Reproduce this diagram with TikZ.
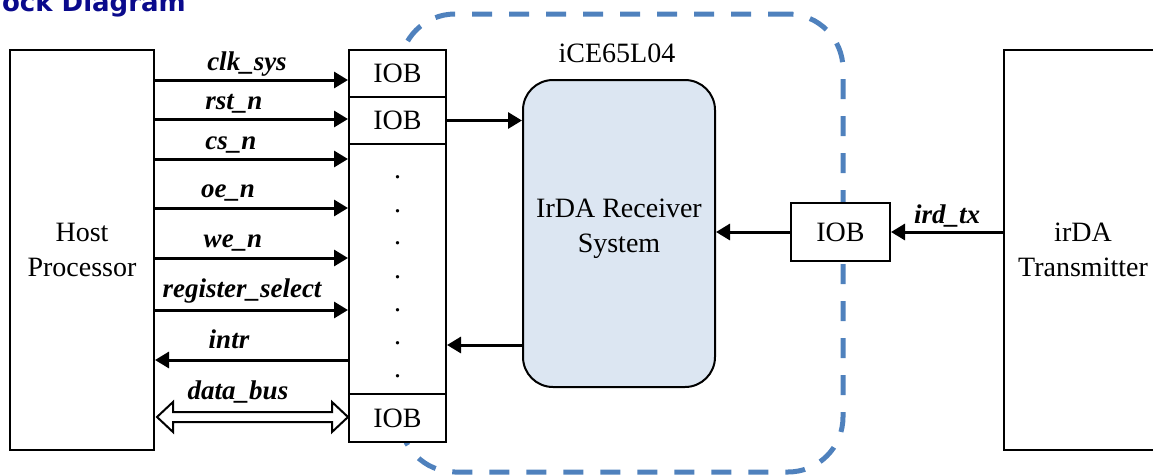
\documentclass[tikz,border=0pt]{standalone}
\usepackage{fontspec}
\setmainfont{Liberation Serif}
\newfontfamily\titlefont{DejaVu Sans}
\usetikzlibrary{arrows.meta,calc}
\definecolor{chipblue}{RGB}{79,129,189}
\definecolor{rxfill}{RGB}{220,230,242}
\definecolor{titleblue}{RGB}{10,10,140}
\begin{document}
\begin{tikzpicture}[x=1pt,y=-1pt,
  box/.style={draw, line width=2pt, inner sep=0pt, fill=white},
  txt/.style={font=\fontsize{28}{35}\selectfont, align=center, inner sep=0pt},
  lbl/.style={font=\fontsize{27}{32}\selectfont\bfseries\itshape, inner sep=0pt, anchor=base},
  arr/.style={line width=3pt, -{Triangle[length=14pt,width=16pt]}},
  dot/.style={font=\fontsize{28}{35}\selectfont, inner sep=0pt, anchor=center},
]
\useasboundingbox (0,0) rectangle (1153,475);
\clip (0,0) rectangle (1153,475);

\node[anchor=base east, inner sep=0pt, font=\titlefont\fontsize{26}{30}\selectfont\bfseries, text=titleblue] (title) at (186,11) {Block Diagram};

% chip boundary
\node[draw=chipblue, line width=5pt, dash pattern=on 20pt off 17pt, rounded corners=55pt,
      minimum width=443pt, minimum height=458pt, inner sep=0pt] (chip) at (621.5,243) {};
\node[txt, anchor=base] (chiplbl) at (617,62) {iCE65L04};

% host
\node[box, txt, minimum width=144pt, minimum height=400pt] (host) at (82,250) {Host\\Processor};

% IOB column
\node[box, txt, minimum width=97pt, minimum height=47pt] (iob1) at (397.5,73.5) {IOB};
\node[box, txt, minimum width=97pt, minimum height=47pt] (iob2) at (397.5,120.5) {IOB};
\node[box, minimum width=97pt, minimum height=250pt] (col) at (397.5,269) {};
\node[box, txt, minimum width=97pt, minimum height=48pt] (iob3) at (397.5,418) {IOB};
\foreach \yy in {177,211,243,277,310,343,376}
  \node[dot] (d\yy) at (col.center |- 0,\yy) {.};

% receiver
\node[draw, line width=2pt, fill=rxfill, rounded corners=30pt, minimum width=192pt,
      minimum height=307pt, inner sep=0pt] (rx) at (619,233.5) {};
\node[txt] (rxlbl) at (619,228.25) {IrDA Receiver\\System};

% right IOB
\node[box, txt, minimum width=99pt, minimum height=58pt] (iob4) at (840.5,232) {IOB};

% transmitter
\node[box, txt, minimum width=158pt, minimum height=400pt] (tx) at (1083,250) {irDA\\Transmitter};

% host connections
\draw[arr] (host.east |- 0,80) -- (iob1.west |- 0,80);
\draw[arr] (host.east |- 0,119) -- (iob2.west |- 0,119);
\draw[arr] (host.east |- 0,159) -- (col.west |- 0,159);
\draw[arr] (host.east |- 0,208) -- (col.west |- 0,208);
\draw[arr] (host.east |- 0,258) -- (col.west |- 0,258);
\draw[arr] (host.east |- 0,310) -- (col.west |- 0,310);
\draw[arr] (col.west |- 0,360) -- (host.east |- 0,360);
\draw[line width=2pt, fill=white, line join=miter]
  let \p1=($(host.east |- 0,417)+(2pt,0)$), \p2=(iob3.west |- 0,417) in
  (\x1,\y1) -- (\x1+16pt,\y1+15pt) -- (\x1+16pt,\y1+5pt) -- (\x2-16pt,\y1+5pt)
  -- (\x2-16pt,\y1+15pt) -- (\x2,\y1) -- (\x2-16pt,\y1-15pt) -- (\x2-16pt,\y1-5pt)
  -- (\x1+16pt,\y1-5pt) -- (\x1+16pt,\y1-15pt) -- cycle;

\node[lbl] (lclk) at (247,70) {clk\_sys};
\node[lbl] (lrst) at (234,109) {rst\_n};
\node[lbl] (lcs) at (231,149) {cs\_n};
\node[lbl] (loe) at (228,197) {oe\_n};
\node[lbl] (lwe) at (233,247) {we\_n};
\node[lbl] (lreg) at (242,297) {register\_select};
\node[lbl] (lintr) at (229,348) {intr};
\node[lbl] (ldata) at (238,399) {data\_bus};

% receiver connections
\draw[arr] (iob2.east) -- (rx.west |- iob2.east);
\draw[arr] (rx.west |- 0,345) -- (col.east |- 0,345);
\draw[arr] (iob4.west) -- (rx.east |- iob4.west);
\draw[arr] (tx.west |- iob4.east) -- (iob4.east);
\node[lbl] (lird) at (947,223) {ird\_tx};
\end{tikzpicture}
\end{document}
